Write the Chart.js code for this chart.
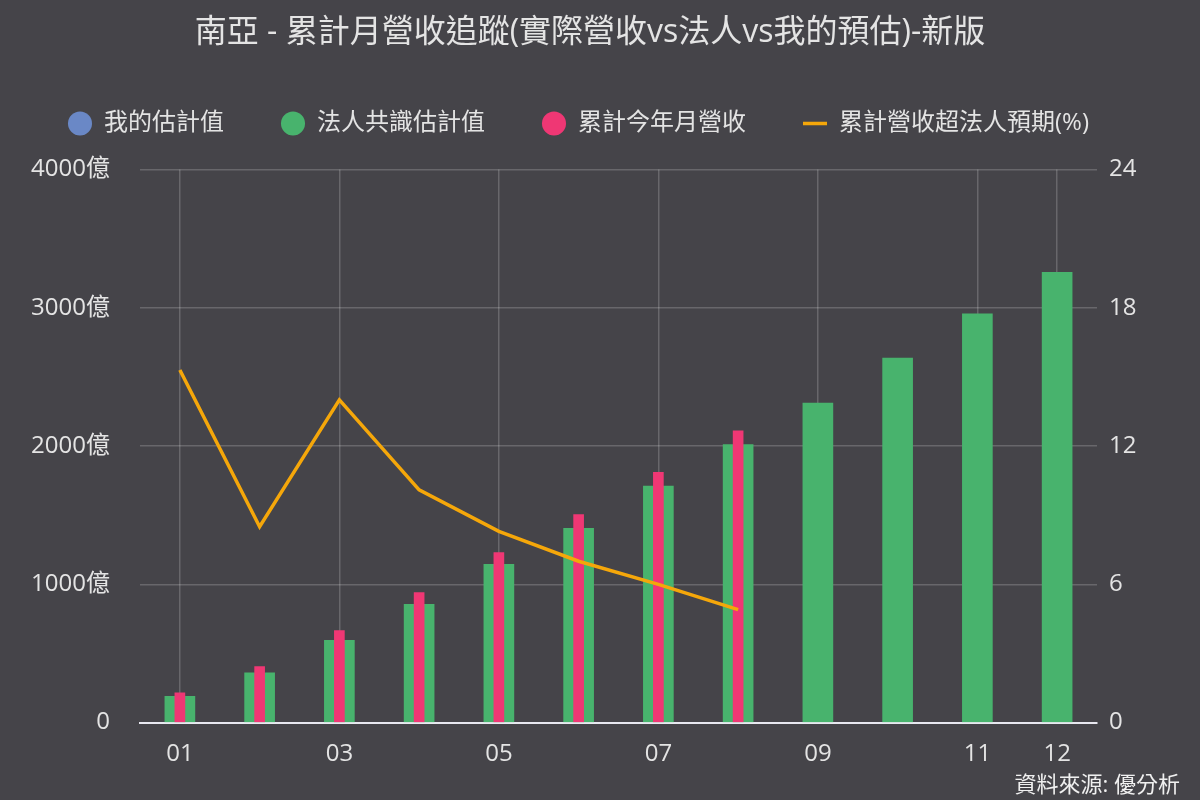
<!DOCTYPE html>
<html>
<head>
<meta charset="utf-8">
<script src="https://cdn.jsdelivr.net/npm/chart.js@4.4.1/dist/chart.umd.min.js"></script>
<style>
  html, body { margin: 0; padding: 0; background: #454449; }
  #wrap { width: 1200px; height: 800px; position: relative; }
</style>
</head>
<body>
<div id="wrap"><canvas id="c" width="1200" height="800"></canvas></div>
<script>
const categories = ['01','02','03','04','05','06','07','08','09','10','11','12'];
const xTickLabels = ['01','','03','','05','','07','','09','','11','12'];
const myEstimate = [];
const consensus = [190, 360, 595, 855, 1145, 1405, 1710, 2010, 2310, 2635, 2955, 3255];
const actualCum = [215, 405, 665, 940, 1230, 1505, 1810, 2110, null, null, null, null];
const beatPct = [15.3, 8.5, 14.0, 10.1, 8.3, 7.0, 6.0, 4.9, null, null, null, null];
const leftTicks = [0, 1000, 2000, 3000, 4000];
const rightTicks = [0, 6, 12, 18, 24];

const FONT = '"Open Sans", "Noto Sans CJK TC", sans-serif';
const TXT = '#e4e4e4';
const GRID = 'rgba(255,255,255,0.19)';

// extra space below the legend row, and a small leftward shift of the legend row
const legendSpacer = {
  id: 'legendSpacer',
  beforeLayout(chart) {
    const lg = chart.legend;
    if (lg && !lg._spacerPatched) {
      const f = lg.fit;
      lg.fit = function () { f.call(this); this.height += 24; };
      lg._spacerPatched = true;
    }
  },
  afterLayout(chart) {
    if (chart.legend) { chart.legend.right -= 23; }
  }
};

new Chart(document.getElementById('c'), {
  plugins: [legendSpacer],
  data: {
    labels: categories,
    datasets: [
      { type: 'bar', label: '我的估計值', data: myEstimate, backgroundColor: '#6a88c6', yAxisID: 'y', grouped: false, barThickness: 30, order: 3 },
      { type: 'bar', label: '法人共識估計值', data: consensus, backgroundColor: '#48b36d', yAxisID: 'y', grouped: false, barThickness: 30, order: 2 },
      { type: 'bar', label: '累計今年月營收', data: actualCum, backgroundColor: '#ef3774', yAxisID: 'y', grouped: false, barThickness: 10, order: 1 },
      { type: 'line', label: '累計營收超法人預期(%)', data: beatPct, borderColor: '#f5a70a', backgroundColor: '#f5a70a', borderWidth: 3.5, pointRadius: 0, pointStyle: 'line', tension: 0, yAxisID: 'y1', order: 0 }
    ]
  },
  options: {
    responsive: false,
    animation: false,
    layout: { padding: { left: 0, right: 20, top: 0, bottom: 1 } },
    plugins: {
      title: {
        display: true,
        text: '南亞 - 累計月營收追蹤(實際營收vs法人vs我的預估)-新版',
        color: TXT,
        font: { family: FONT, size: 32, weight: 'normal' },
        padding: { top: 14, bottom: 2 }
      },
      subtitle: {
        display: true,
        position: 'bottom',
        align: 'end',
        text: '資料來源: 優分析',
        color: '#f0f0f0',
        font: { family: FONT, size: 22, weight: 'normal' },
        padding: { top: 8, bottom: 0 }
      },
      legend: {
        display: true,
        labels: {
          usePointStyle: true,
          color: TXT,
          font: { family: FONT, size: 24 },
          padding: 57,
          boxHeight: 17,
          sort: (a, b) => a.datasetIndex - b.datasetIndex
        }
      },
      tooltip: { enabled: false }
    },
    scales: {
      x: {
        offset: true,
        afterFit: (s) => { s.height = 42; },
        grid: {
          offset: false,
          drawTicks: false,
          lineWidth: 1.5,
          color: (ctx) => (xTickLabels[ctx.index] ? GRID : 'rgba(0,0,0,0)')
        },
        border: { display: true, color: '#e8e8f0', width: 2 },
        ticks: {
          autoSkip: false,
          maxRotation: 0,
          color: TXT,
          padding: 17,
          font: { family: FONT, size: 24 },
          callback: (v, i) => xTickLabels[i]
        }
      },
      y: {
        position: 'left',
        min: 0, max: 4000,
        afterBuildTicks: (s) => { s.ticks = leftTicks.map(v => ({ value: v })); },
        afterFit: (s) => { s.width = 140; },
        grid: { color: GRID, drawTicks: false, lineWidth: 1.5 },
        border: { display: false },
        ticks: {
          color: TXT,
          padding: 30,
          font: { family: FONT, size: 24 },
          callback: (v) => (v === 0 ? '0' : v + '億')
        }
      },
      y1: {
        position: 'right',
        min: 0, max: 24,
        afterBuildTicks: (s) => { s.ticks = rightTicks.map(v => ({ value: v })); },
        afterFit: (s) => { s.width = 83; },
        grid: { display: false },
        border: { display: false },
        ticks: {
          color: TXT,
          padding: 4,
          font: { family: FONT, size: 24 }
        }
      }
    }
  }
});
</script>
</body>
</html>
